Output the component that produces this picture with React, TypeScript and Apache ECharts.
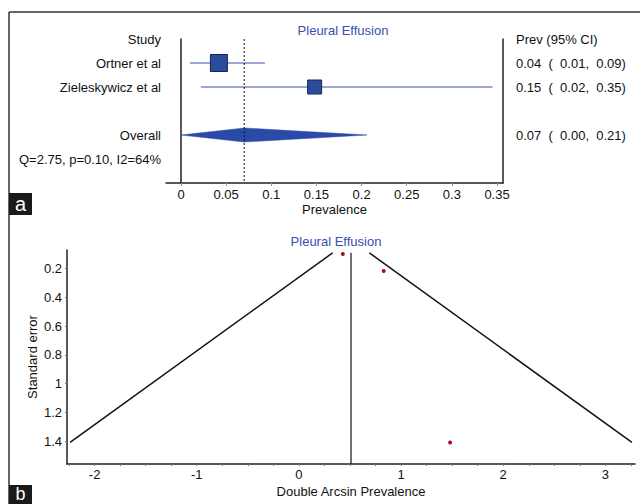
import React, { useEffect, useRef } from "react";
import * as echarts from "echarts";

// ---- Panel a: forest plot data ----
const studyLabels = ["Study", "Ortner et al", "Zieleskywicz et al", "", "Overall", "Q=2.75, p=0.10, I2=64%", ""];
const ciLabels = ["Prev (95% CI)", "0.04  (  0.01,  0.09)", "0.15  (  0.02,  0.35)", "", "0.07  (  0.00,  0.21)", "", ""];
const studyRows = [1, 2];
const studyEst = [0.042, 0.148];
const studyLo = [0.01, 0.022];
const studyHi = [0.093, 0.345];
const studyBox = [17, 14];
const pooledRow = 4;
const pooledEst = 0.07;
const pooledLo = 0.0;
const pooledHi = 0.206;
const forestTicks = [0, 0.05, 0.1, 0.15, 0.2, 0.25, 0.3, 0.35];

// ---- Panel b: funnel plot data ----
const funnelX = [0.43, 0.83, 1.48];
const funnelSE = [0.098, 0.216, 1.41];
const funnelCenter = 0.51;
const funnelLeft = [[0.33, 0.09], [-2.24, 1.41]];
const funnelRight = [[0.69, 0.09], [3.26, 1.41]];
const funnelXLabels = [-2, -1, 0, 1, 2, 3];
const funnelXTicks = [-2.25, -2, -1.75, -1.5, -1.25, -1, -0.75, -0.5, -0.25, 0, 0.25, 0.5, 0.75, 1, 1.25, 1.5, 1.75, 2, 2.25, 2.5, 2.75, 3, 3.25];
const funnelYTicks = [0.2, 0.4, 0.6, 0.8, 1, 1.2, 1.4];

const FONT = "Liberation Sans, Arial, sans-serif";
const BLUE = "#3a4db3";
const INK = "#111";
const FS = 13;

export default function App() {
  const ref = useRef<HTMLDivElement>(null);
  useEffect(() => {
    document.body.style.margin = "0";
    const chart = echarts.init(ref.current!, null, { renderer: "svg" });
    const option: any = {
      animation: false,
      textStyle: { fontFamily: FONT },
      title: [
        { text: "Pleural Effusion", left: 338, top: 19, textAlign: "center", textStyle: { color: BLUE, fontSize: FS, fontWeight: "normal", fontFamily: FONT } },
        { text: "Pleural Effusion", left: 331, top: 230, textAlign: "center", textStyle: { color: BLUE, fontSize: FS, fontWeight: "normal", fontFamily: FONT } },
      ],
      grid: [
        { left: 166, top: 39, width: 337, height: 144 },
        { left: 67, top: 250, width: 568, height: 214 },
      ],
      xAxis: [
        {
          gridIndex: 0, type: "value", min: -0.0166, max: 0.3566,
          name: "Prevalence", nameLocation: "middle", nameGap: 20, nameMoveOverlap: false,
          nameTextStyle: { color: INK, fontSize: FS, fontFamily: FONT },
          axisLine: { show: true, lineStyle: { color: "#222", width: 1.5 } },
          axisTick: { show: true, length: 3, customValues: forestTicks, lineStyle: { color: "#999" } },
          axisLabel: { customValues: forestTicks, color: INK, fontSize: FS, margin: 5, fontFamily: FONT },
          splitLine: { show: false },
        },
        {
          gridIndex: 1, type: "value", min: -2.27, max: 3.29,
          name: "Double Arcsin Prevalence", nameLocation: "middle", nameGap: 21, nameMoveOverlap: false,
          nameTextStyle: { color: INK, fontSize: FS, fontFamily: FONT },
          axisLine: { show: true, onZero: false, lineStyle: { color: "#222", width: 1.5 } },
          axisTick: { show: true, length: 2, customValues: funnelXTicks, lineStyle: { color: "#777" } },
          axisLabel: { customValues: funnelXLabels, color: INK, fontSize: FS, margin: 4, fontFamily: FONT },
          splitLine: { show: false },
        },
      ],
      yAxis: [
        {
          gridIndex: 0, type: "category", inverse: true, boundaryGap: false, data: studyLabels,
          axisLine: { show: true, lineStyle: { color: "#222", width: 1.5 } },
          axisTick: { show: false },
          axisLabel: { color: INK, fontSize: FS, margin: 5, interval: 0, fontFamily: FONT },
          splitLine: { show: false },
        },
        {
          gridIndex: 0, type: "category", position: "right", inverse: true, boundaryGap: false, data: ciLabels,
          axisLine: { show: true, lineStyle: { color: "#222", width: 1.5 } },
          axisTick: { show: false },
          axisLabel: { color: INK, fontSize: FS, margin: 13, interval: 0, fontFamily: FONT },
          splitLine: { show: false },
        },
        {
          gridIndex: 1, type: "value", inverse: true, min: 0.07, max: 1.56,
          name: "Standard error", nameLocation: "middle", nameGap: 28, nameRotate: 90, nameMoveOverlap: false,
          nameTextStyle: { color: INK, fontSize: FS, fontFamily: FONT },
          axisLine: { show: true, onZero: false, lineStyle: { color: "#222", width: 1.5 } },
          axisTick: { show: true, length: 2, customValues: funnelYTicks, lineStyle: { color: "#777" } },
          axisLabel: { customValues: funnelYTicks, color: INK, fontSize: FS, margin: 5, fontFamily: FONT },
          splitLine: { show: false },
        },
      ],
      series: [
        // CI lines
        ...studyRows.map((r, i) => ({
          type: "line", xAxisIndex: 0, yAxisIndex: 0, symbol: "none", silent: true,
          lineStyle: { color: BLUE, width: 1 },
          data: [[studyLo[i], r], [studyHi[i], r]],
        })),
        // study boxes
        {
          type: "scatter", xAxisIndex: 0, yAxisIndex: 0, symbol: "rect",
          symbolSize: (_v: any, p: any) => studyBox[p.dataIndex],
          itemStyle: { color: "#2b4c9e", borderColor: "#1a2450", borderWidth: 1, opacity: 1 },
          data: studyRows.map((r, i) => [studyEst[i], r]),
          z: 3,
        },
        // pooled diamond
        {
          type: "custom", xAxisIndex: 0, yAxisIndex: 0,
          encode: { x: [0, 1, 2], y: 3 },
          data: [[pooledLo, pooledEst, pooledHi, pooledRow]],
          renderItem: (_p: any, api: any) => {
            const row = api.value(3);
            const a = api.coord([api.value(0), row]);
            const b = api.coord([api.value(1), row]);
            const c = api.coord([api.value(2), row]);
            return {
              type: "polygon",
              shape: { points: [a, [b[0], b[1] - 7], c, [b[0], b[1] + 7]] },
              style: { fill: "#2b4aa8", stroke: "#2b4aa8", lineWidth: 0.5 },
            };
          },
          z: 2,
        },
        // pooled dotted line
        {
          type: "line", xAxisIndex: 0, yAxisIndex: 0, symbol: "none", silent: true,
          lineStyle: { color: "#111", width: 1, type: [2, 2] },
          data: [[pooledEst, 0], [pooledEst, 6]],
          z: 4,
        },
        // funnel lines
        {
          type: "line", xAxisIndex: 1, yAxisIndex: 2, symbol: "none",
          lineStyle: { color: "#111", width: 1.5 }, data: funnelLeft,
        },
        {
          type: "line", xAxisIndex: 1, yAxisIndex: 2, symbol: "none",
          lineStyle: { color: "#111", width: 1.5 }, data: funnelRight,
        },
        {
          type: "line", xAxisIndex: 1, yAxisIndex: 2, symbol: "none",
          lineStyle: { color: "#111", width: 1.2 }, data: [[funnelCenter, 0.09], [funnelCenter, 1.56]],
        },
        {
          type: "scatter", xAxisIndex: 1, yAxisIndex: 2, symbol: "circle", symbolSize: 4,
          itemStyle: { color: "#a01420", opacity: 1 },
          data: funnelX.map((x, i) => [x, funnelSE[i]]),
          z: 5,
        },
      ],
      graphic: [
        { type: "line", shape: { x1: 9, y1: 12, x2: 640, y2: 12 }, style: { stroke: "#333", lineWidth: 1.5 } },
        { type: "line", shape: { x1: 9, y1: 12, x2: 9, y2: 504 }, style: { stroke: "#333", lineWidth: 1.5 } },
        { type: "rect", shape: { x: 9, y: 193, width: 23, height: 22 }, style: { fill: "#1a1a1a" } },
        { type: "text", x: 20.5, y: 204, style: { text: "a", fill: "#fff", font: "20px " + FONT, textAlign: "center", textVerticalAlign: "middle" } },
        { type: "rect", shape: { x: 9, y: 485, width: 23, height: 20 }, style: { fill: "#1a1a1a" } },
        { type: "text", x: 20.5, y: 494, style: { text: "b", fill: "#fff", font: "18px " + FONT, textAlign: "center", textVerticalAlign: "middle" } },
      ],
    };
    chart.setOption(option);
    return () => chart.dispose();
  }, []);
  return <div ref={ref} style={{ width: 640, height: 504 }} />;
}
